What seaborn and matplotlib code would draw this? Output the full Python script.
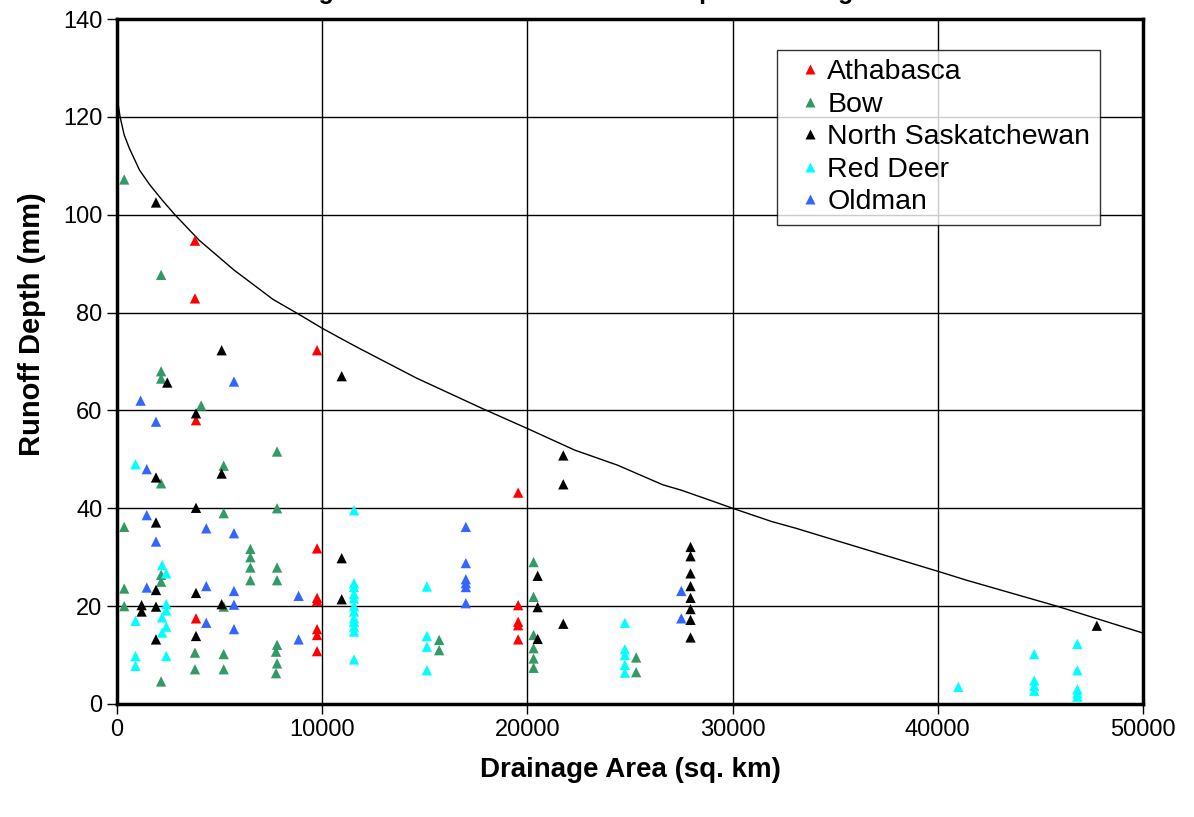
import pandas as pd
import matplotlib.pyplot as plt
import seaborn as sns

# Values
athabasca_x = [3800, 3800, 3850, 3850, 9750, 9750, 9750, 9750, 9750, 9750, 9750,
               19550, 19550, 19550, 19550, 19550]
athabasca_y = [94.7, 82.9, 58.0, 17.5, 72.3, 31.8, 21.7, 21.1, 15.3, 14.1, 10.8,
               43.2, 20.2, 16.8, 16.1, 13.2]

bow_x = [350, 2150, 2150, 2150, 4100, 7800, 5200, 2150, 5200, 7800, 350,
         6500, 6500, 6500, 6500, 7800, 7800, 2150, 2150, 350, 350, 5200,
         3800, 5200, 3800, 5200, 7800, 7750, 7800, 7750, 2150,
         20300, 20300, 20300, 20300, 20300, 20300, 15700, 15700, 25300, 25300]
bow_y = [107.2, 87.7, 68.0, 66.5, 61.0, 51.6, 48.7, 45.1, 39.0, 40.0, 36.2,
         31.7, 30.0, 27.9, 25.3, 27.9, 25.3, 26.4, 25.0, 23.6, 20.0, 19.9,
         10.5, 10.2, 7.1, 7.1, 12.1, 10.7, 8.3, 6.3, 4.6,
         29.0, 21.9, 14.1, 11.4, 9.3, 7.4, 13.1, 11.0, 9.5, 6.5]

nsask_x = [1900, 5100, 2450, 3850, 10950, 5100, 1900, 3850, 1900, 10950,
           1900, 3850, 10950, 1200, 1200, 1900, 5100, 3850, 1900,
           21750, 21750, 20500, 20500, 20500, 21750,
           27950, 27950, 27950, 27950, 27950, 27950, 27950, 27950, 47750]
nsask_y = [102.5, 72.3, 65.7, 59.4, 67.0, 47.1, 46.3, 40.1, 37.1, 29.8,
           23.3, 22.7, 21.4, 20.2, 18.9, 19.9, 20.4, 13.9, 13.2,
           50.8, 44.9, 26.2, 19.8, 13.3, 16.4,
           32.1, 30.2, 26.7, 24.1, 21.7, 19.4, 17.2, 13.6, 16.0]

reddeer_x = [900, 2200, 2400, 2400, 2400, 2200, 2400, 2200, 900, 900, 900, 2400,
             11550, 11550, 11550, 11550, 11550, 11550, 11550, 11550, 11550, 11550, 11550, 11550,
             15100, 15100, 15100, 15100,
             24750, 24750, 24750, 24750, 24750,
             41000, 44700, 44700, 44700, 44700, 46800, 46800, 46800, 46800, 46800]
reddeer_y = [49.0, 28.4, 26.7, 20.4, 19.1, 17.7, 15.8, 14.6, 17.0, 9.8, 7.8, 9.8,
             39.6, 24.7, 23.9, 22.5, 21.6, 20.0, 18.9, 17.5, 16.8, 15.8, 14.8, 9.1,
             24.0, 13.9, 11.7, 6.9,
             16.6, 11.2, 10.0, 8.0, 6.4,
             3.5, 10.2, 4.8, 3.7, 2.7, 12.3, 6.9, 3.0, 2.2, 1.5]

oldman_x = [5700, 1150, 1900, 1450, 1450, 4350, 5700, 1900, 1450, 4350, 5700, 8850,
            5700, 4350, 5700, 8850, 17000, 17000, 17000, 17000, 17000, 17000, 27500, 27500]
oldman_y = [65.9, 62.0, 57.7, 48.0, 38.6, 35.9, 34.9, 33.2, 23.8, 24.1, 23.1, 22.1,
            20.3, 16.6, 15.3, 13.2, 36.2, 28.8, 25.5, 24.7, 23.9, 20.6, 23.1, 17.5]

# envelope curve
curve_x = [0, 150, 350, 600, 1100, 1600, 2200, 2800, 4000, 5700, 7600, 8800, 10000,
           11000, 11800, 14600, 17800, 20000, 22300, 24400, 26600, 27500, 29200, 30000,
           31900, 33100, 34900, 40100, 41400, 45800, 50000]
curve_y = [124.1, 120.0, 116.3, 113.6, 109.1, 106.1, 103.0, 100.1, 94.8, 88.7, 82.7, 79.8, 76.8,
           74.5, 72.7, 66.6, 60.4, 56.3, 51.9, 48.8, 44.8, 43.7, 41.2, 40.0,
           37.3, 35.9, 33.6, 27.0, 25.3, 20.0, 14.5]

rivers = ["Athabasca", "Bow", "North Saskatchewan", "Red Deer", "Oldman"]
colors = ["#FF0000", "#339966", "#000000", "#00FFFF", "#3366FF"]

df = pd.concat([
    pd.DataFrame({"area": athabasca_x, "depth": athabasca_y, "river": rivers[0]}),
    pd.DataFrame({"area": bow_x, "depth": bow_y, "river": rivers[1]}),
    pd.DataFrame({"area": nsask_x, "depth": nsask_y, "river": rivers[2]}),
    pd.DataFrame({"area": reddeer_x, "depth": reddeer_y, "river": rivers[3]}),
    pd.DataFrame({"area": oldman_x, "depth": oldman_y, "river": rivers[4]}),
], ignore_index=True)

sns.set_style("white")
plt.rcParams['font.family'] = ['Liberation Sans', 'DejaVu Sans']
plt.rcParams.update({"text.color": "black", "axes.labelcolor": "black",
                     "xtick.color": "black", "ytick.color": "black"})

fig = plt.figure(figsize=(11.94, 8.17), dpi=100)
ax = fig.add_axes([117 / 1194, 1 - 704 / 817, 1026 / 1194, 685 / 817])

ax.grid(True, color="black", linewidth=1)
ax.set_axisbelow(True)

sns.lineplot(x=curve_x, y=curve_y, color="black", linewidth=1, ax=ax, sort=False,
             estimator=None, zorder=2)
sns.scatterplot(data=df, x="area", y="depth", hue="river", hue_order=rivers,
                palette=dict(zip(rivers, colors)), marker="^", s=55,
                edgecolor="none", ax=ax, zorder=3)

ax.set_xlim(0, 50000)
ax.set_ylim(0, 140)
ax.set_xticks(range(0, 50001, 10000))
ax.set_yticks(range(0, 141, 20))
ax.tick_params(axis="both", labelsize=17, direction="out", length=7, width=1,
               color="black", labelcolor="black", left=True, bottom=True)
for s in ax.spines.values():
    s.set_color("black")
    s.set_linewidth(2.5)

ax.set_xlabel("Drainage Area (sq. km)", fontsize=20, fontweight="bold", labelpad=12)
ax.set_ylabel("Runoff Depth (mm)", fontsize=21, fontweight="bold")
ax.yaxis.set_label_coords(-0.069, 0.555)

leg = ax.legend(loc="upper left", bbox_to_anchor=(0.643, 0.955), borderaxespad=0,
                fontsize=20.5, frameon=True, fancybox=False, markerscale=0.95,
                handlelength=1.7, handletextpad=-0.25, labelspacing=0.23, borderpad=0.33)
leg.get_frame().set_edgecolor("black")
leg.get_frame().set_linewidth(1)
for t in leg.get_texts():
    t.set_color("black")

# title sits above the canvas, only its descenders show
fig.text(0.4975, 1.0015, "Drainage Area versus Flood Runoff Depth for Design Storm",
         ha="center", va="baseline", fontsize=18, fontweight="bold")

fig.savefig("out.png", dpi=100)
